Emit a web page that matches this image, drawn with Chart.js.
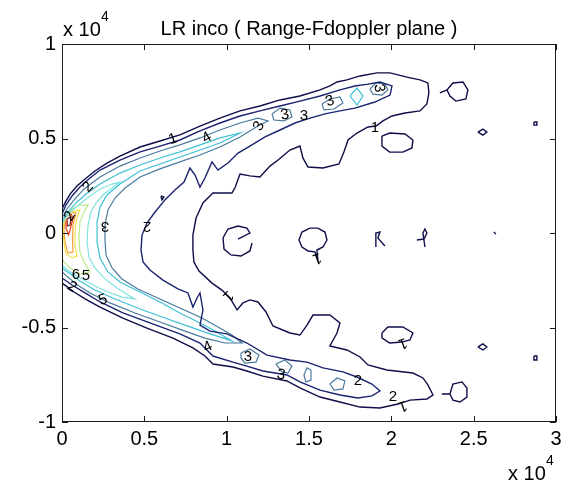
<!DOCTYPE html>
<html>
<head>
<meta charset="utf-8">
<script src="https://cdn.jsdelivr.net/npm/chart.js@4"></script>
<style>
  body { margin: 0; background: #fff; }
  canvas { display: block; }
</style>
</head>
<body>
<canvas id="contourChart" width="570" height="487"></canvas>
<script>
// axes, in units of 10^4
const xTicks = [0, 0.5, 1, 1.5, 2, 2.5, 3];
const xTickLabels = ['0', '0.5', '1', '1.5', '2', '2.5', '3'];
const yTicks = [-1, -0.5, 0, 0.5, 1];
const yTickLabels = ['-1', '-0.5', '0', '0.5', '1'];

const levels = [1, 2, 3, 4, 5, 6, 7, 8, 9, 10];
const levelColors = ['#0e0e4a', '#1a2370', '#4a7a9e', '#3fbfd6', '#7fe3df',
                     '#bfe98a', '#f2e04a', '#f4a03a', '#d9401e', '#7a1a10'];

// contour paths [x, y]
const level1Band = [[0,0.127],[0.018,0.159],[0.049,0.206],[0.091,0.249],[0.14,0.286],[0.2,0.328],[0.273,0.37],[0.352,0.407],[0.474,0.455],[0.595,0.487],[0.716,0.519],[0.838,0.566],[0.959,0.608],[1.081,0.646],[1.202,0.672],[1.324,0.704],[1.445,0.725],[1.567,0.757],[1.627,0.778],[1.67,0.799],[1.73,0.81],[1.81,0.831],[1.913,0.847],[1.992,0.847],[2.095,0.825],[2.174,0.81],[2.222,0.794],[2.228,0.741],[2.216,0.683],
  [2.174,0.646],[2.083,0.635],[2.004,0.619],[1.949,0.593],[1.907,0.566],[1.858,0.561],[1.791,0.529],[1.737,0.492],[1.712,0.429],[1.682,0.365],[1.585,0.344],[1.494,0.349],[1.463,0.397],[1.445,0.46],[1.384,0.439],[1.312,0.386],[1.263,0.354],[1.202,0.296],[1.141,0.302],[1.081,0.312],[1.05,0.238],[1.032,0.212],[0.917,0.212],[0.856,0.159],[0.814,0.079],[0.795,-0.011],[0.795,-0.09],[0.801,-0.153],[0.832,-0.201],[0.911,-0.265],[0.971,-0.302],[1.02,-0.344],[1.063,-0.407],[1.099,-0.37],[1.141,-0.354],[1.19,-0.365],[1.239,-0.418],[1.281,-0.492],[1.384,-0.529],[1.445,-0.54],[1.488,-0.487],[1.524,-0.434],[1.627,-0.434],[1.688,-0.476],[1.67,-0.529],[1.627,-0.598],[1.73,-0.619],[1.81,-0.656],[1.858,-0.698],[1.973,-0.725],[2.131,-0.741],[2.192,-0.767],[2.222,-0.804],[2.253,-0.857],
  [2.216,-0.878],[2.113,-0.884],[2.04,-0.905],[1.931,-0.926],[1.81,-0.921],[1.688,-0.894],[1.567,-0.868],[1.445,-0.82],[1.366,-0.783],[1.22,-0.757],[1.123,-0.73],[1.038,-0.709],[0.917,-0.693],[0.868,-0.651],[0.795,-0.608],[0.674,-0.556],[0.516,-0.503],[0.37,-0.45],[0.231,-0.392],[0.14,-0.349],[0.073,-0.312],[0.024,-0.28],[0,-0.265]];

const level1Islands = [
  [[2.295,0.741],[2.338,0.757],[2.374,0.794],[2.435,0.799],[2.465,0.757],[2.453,0.709],[2.392,0.698],[2.356,0.725],[2.338,0.757]],
  [[1.943,0.513],[1.99,0.529],[2.083,0.524],[2.131,0.492],[2.125,0.45],[2.07,0.428],[1.99,0.428],[1.943,0.46],[1.943,0.513]],
  [[2.526,0.534],[2.556,0.55],[2.58,0.534],[2.556,0.518],[2.526,0.534]],
  [[2.866,0.587],[2.884,0.587],[2.884,0.571],[2.866,0.571],[2.866,0.587]],
  [[1.069,-0.032],[1.141,0],[1.123,0.026],[1.069,0.037],[1.008,0.021],[0.978,-0.026],[0.984,-0.085],[1.026,-0.116],[1.087,-0.122],[1.141,-0.095],[1.154,-0.053]],
  [[1.506,0.026],[1.457,0.005],[1.439,-0.037],[1.457,-0.074],[1.494,-0.095],[1.536,-0.1],[1.554,-0.143],[1.548,-0.09],[1.585,-0.074],[1.609,-0.037],[1.597,0.005],[1.554,0.026],[1.506,0.026]],
  [[1.906,-0.074],[1.906,0],[1.931,0.005],[1.918,-0.026],[1.961,-0.069]],
  [[2.155,-0.037],[2.198,-0.032],[2.216,0],[2.204,0.021],[2.192,0],[2.204,-0.074]],
  [[1.943,-0.529],[1.979,-0.497],[2.07,-0.497],[2.131,-0.529],[2.113,-0.566],[2.064,-0.577],[1.99,-0.582],[1.943,-0.555],[1.943,-0.529]],
  [[2.526,-0.603],[2.556,-0.587],[2.58,-0.603],[2.556,-0.619],[2.526,-0.603]],
  [[2.866,-0.651],[2.884,-0.651],[2.884,-0.672],[2.866,-0.672],[2.866,-0.651]],
  [[2.307,-0.852],[2.356,-0.852],[2.374,-0.799],[2.429,-0.788],[2.459,-0.82],[2.459,-0.868],[2.417,-0.894],[2.374,-0.884],[2.356,-0.852]],
  [[0.601,0.196],[0.619,0.19],[0.607,0.175],[0.601,0.196]],
  [[2.623,0.005],[2.635,-0.005]]
];

const level2Band = [[0,0.101],[0.024,0.148],[0.061,0.196],[0.109,0.243],[0.17,0.291],[0.231,0.333],[0.352,0.386],[0.474,0.429],[0.595,0.46],[0.716,0.492],[0.838,0.54],[0.959,0.582],[1.081,0.619],[1.202,0.646],[1.324,0.672],[1.445,0.698],[1.567,0.725],[1.688,0.757],[1.779,0.778],[1.858,0.788],[1.931,0.799],[2.004,0.778],[1.992,0.73],[1.9,0.693],
  [1.779,0.661],[1.688,0.646],[1.597,0.63],[1.506,0.608],[1.415,0.582],[1.324,0.545],[1.233,0.508],[1.141,0.46],[1.069,0.423],[1.008,0.37],[0.947,0.333],[0.911,0.376],[0.868,0.291],[0.838,0.243],[0.808,0.307],[0.777,0.344],[0.741,0.27],[0.686,0.228],[0.625,0.175],[0.565,0.111],[0.516,0.053],[0.486,-0.011],[0.48,-0.09],[0.492,-0.153],[0.534,-0.196],[0.613,-0.249],[0.704,-0.296],[0.765,-0.317],[0.795,-0.392],[0.82,-0.344],[0.838,-0.317],[0.856,-0.407],[0.838,-0.487],[0.899,-0.519],[1.002,-0.534],[1.123,-0.582],[1.245,-0.646],[1.384,-0.672],[1.488,-0.683],[1.585,-0.714],[1.706,-0.735],[1.791,-0.762],[1.882,-0.799],[1.931,-0.836],
  [1.882,-0.862],[1.797,-0.873],[1.688,-0.857],[1.567,-0.831],[1.445,-0.788],[1.366,-0.751],[1.22,-0.73],[1.123,-0.704],[1.038,-0.683],[0.917,-0.651],[0.838,-0.582],[0.716,-0.534],[0.534,-0.476],[0.37,-0.423],[0.231,-0.365],[0.14,-0.317],[0.061,-0.275],[0,-0.238]];

const level3Band = [[0,0.079],[0.03,0.127],[0.073,0.175],[0.134,0.233],[0.231,0.296],[0.352,0.354],[0.474,0.397],[0.595,0.434],[0.716,0.466],[0.838,0.503],[0.959,0.545],[1.081,0.582],[1.19,0.608],[1.251,0.593],
  [1.19,0.566],[1.081,0.508],[0.959,0.455],[0.838,0.413],[0.716,0.376],[0.595,0.339],[0.474,0.296],[0.383,0.238],[0.322,0.185],[0.279,0.122],[0.261,0.042],[0.261,-0.037],[0.267,-0.116],[0.304,-0.185],[0.364,-0.243],[0.461,-0.296],[0.595,-0.349],[0.729,-0.402],[0.85,-0.45],[0.947,-0.497],[1.032,-0.54],[1.093,-0.582],
  [0.99,-0.582],[0.868,-0.556],[0.747,-0.519],[0.595,-0.471],[0.443,-0.423],[0.291,-0.37],[0.17,-0.317],[0.085,-0.27],[0.03,-0.228],[0,-0.206]];

const level3Islands = [
  [[1.275,0.63],[1.324,0.661],[1.384,0.651],[1.396,0.614],[1.348,0.593],[1.287,0.598],[1.275,0.63]],
  [[1.579,0.683],[1.627,0.709],[1.688,0.72],[1.706,0.688],[1.652,0.656],[1.591,0.651],[1.579,0.683]],
  [[1.87,0.762],[1.907,0.794],[1.961,0.788],[1.979,0.757],[1.943,0.73],[1.888,0.735],[1.87,0.762]],
  [[1.087,-0.635],[1.141,-0.614],[1.196,-0.646],[1.178,-0.683],[1.111,-0.688],[1.087,-0.661],[1.087,-0.635]],
  [[1.299,-0.693],[1.354,-0.672],[1.396,-0.704],[1.372,-0.741],[1.336,-0.735],[1.299,-0.693]],
  [[1.469,-0.751],[1.488,-0.714],[1.512,-0.725],[1.512,-0.778],[1.481,-0.788],[1.469,-0.751]],
  [[1.627,-0.799],[1.67,-0.767],[1.718,-0.783],[1.706,-0.825],[1.652,-0.831],[1.627,-0.799]]
];

const level4Band = [[0,0.063],[0.036,0.111],[0.085,0.159],[0.146,0.206],[0.231,0.259],[0.352,0.317],[0.474,0.36],[0.595,0.397],[0.716,0.429],[0.838,0.466],[0.959,0.503],[1.081,0.529],
  [0.959,0.476],[0.838,0.439],[0.716,0.402],[0.595,0.365],[0.474,0.328],[0.352,0.259],[0.273,0.201],[0.231,0.138],[0.213,0.058],[0.213,-0.048],[0.231,-0.132],[0.279,-0.206],[0.352,-0.259],[0.474,-0.312],[0.595,-0.365],[0.716,-0.423],[0.838,-0.476],[0.929,-0.519],[1.032,-0.571],
  [0.899,-0.534],[0.777,-0.497],[0.625,-0.45],[0.474,-0.402],[0.322,-0.349],[0.2,-0.302],[0.109,-0.254],[0.043,-0.212],[0,-0.185]];

const level4Islands = [
  [[1.749,0.725],[1.791,0.767],[1.828,0.725],[1.791,0.677],[1.749,0.725]]
];

const level5Band = [[0,0.053],[0.036,0.095],[0.085,0.138],[0.146,0.18],[0.231,0.233],[0.304,0.259],[0.352,0.27],[0.304,0.238],[0.255,0.206],[0.206,0.159],[0.176,0.111],[0.158,0.042],[0.152,-0.048],[0.164,-0.127],[0.2,-0.185],[0.261,-0.243],[0.334,-0.291],[0.401,-0.328],[0.443,-0.349],[0.364,-0.339],[0.279,-0.312],[0.2,-0.28],[0.121,-0.243],[0.061,-0.212],[0.018,-0.185],[0,-0.169]];

const level6Band = [[0,0.042],[0.024,0.09],[0.061,0.127],[0.109,0.148],[0.158,0.148],[0.134,0.111],[0.109,0.058],[0.103,-0.026],[0.109,-0.101],[0.134,-0.153],[0.17,-0.206],[0.109,-0.217],[0.049,-0.185],[0.012,-0.153],[0,-0.132]];

const level7Loop = [[0.012,0.058],[0.036,0.095],[0.073,0.116],[0.109,0.122],[0.091,0.079],[0.079,0.016],[0.079,-0.063],[0.091,-0.122],[0.061,-0.132],[0.024,-0.111],[0.012,-0.048],[0.006,0.016],[0.012,0.058]];
const level8Loop = [[0.018,0.079],[0.055,0.106],[0.085,0.106],[0.067,0.042],[0.064,-0.037],[0.067,-0.1],[0.036,-0.106],[0.018,-0.048],[0.012,0.016],[0.018,0.079]];
const level9Loop = [[0.024,0.085],[0.055,0.1],[0.067,0.079],[0.052,0.026],[0.04,-0.01],[0.024,0.026],[0.024,0.085]];
const level10Loop = [[0.03,0.074],[0.055,0.085],[0.049,0.042],[0.033,0.037],[0.03,0.074]];

// inline contour labels: text, x, y, angle (deg)
const contourLabels = [
  ['1', 0.674, 0.497, -20], ['4', 0.88, 0.503, -30], ['3', 1.196, 0.566, -60],
  ['3', 1.354, 0.624, -10], ['3', 1.469, 0.619, 0], ['3', 1.627, 0.698, -20],
  ['3', 1.925, 0.767, 80], ['1', 1.9, 0.556, 0], ['2', 0.158, 0.243, -45],
  ['2', 0.049, 0.09, -60], ['3', 0.261, 0.037, 180], ['2', 0.516, 0.037, 180],
  ['1', 1.008, -0.333, 135], ['1', 1.548, -0.132, 160], ['1', 2.07, -0.582, 160],
  ['6', 0.085, -0.222, 0], ['5', 0.146, -0.228, 0], ['2', 0.061, -0.286, 30],
  ['5', 0.249, -0.354, -20], ['4', 0.886, -0.603, -25], ['3', 1.129, -0.656, 0],
  ['3', 1.33, -0.751, 10], ['2', 1.797, -0.783, 0], ['2', 2.01, -0.868, 0],
  ['1', 2.07, -0.915, 160]
];

const contourSets = [
  [1, [level1Band, ...level1Islands]],
  [2, [level2Band]],
  [3, [level3Band, ...level3Islands]],
  [4, [level4Band, ...level4Islands]],
  [5, [level5Band]],
  [6, [level6Band]],
  [7, [level7Loop]],
  [8, [level8Loop]],
  [9, [level9Loop]],
  [10, [level10Loop]]
];

const FONT = '"Liberation Sans", Arial, sans-serif';

const datasets = [];
contourSets.forEach(([lvl, paths]) => {
  const color = levelColors[levels.indexOf(lvl)];
  paths.forEach(path => {
    datasets.push({
      label: 'level ' + lvl,
      data: path.map(p => ({ x: p[0], y: p[1] })),
      showLine: true,
      borderColor: color,
      borderWidth: lvl <= 2 ? 1.4 : 1.2,
      pointRadius: 0,
      fill: false,
      tension: 0
    });
  });
});

// box with inward ticks, contour labels, title and exponent labels
const matlabFrame = {
  id: 'matlabFrame',
  afterDatasetsDraw(chart) {
    const { ctx, chartArea: a, scales } = chart;
    const xs = scales.x, ys = scales.y;
    ctx.save();
    ctx.strokeStyle = '#1a1a1a';
    ctx.lineWidth = 1;
    ctx.strokeRect(a.left + 0.5, a.top + 0.5, a.right - a.left - 1, a.bottom - a.top - 1);
    ctx.beginPath();
    const tl = 6;
    xTicks.forEach(v => {
      const px = Math.round(xs.getPixelForValue(v)) + 0.5;
      ctx.moveTo(px, a.bottom); ctx.lineTo(px, a.bottom - tl);
      ctx.moveTo(px, a.top); ctx.lineTo(px, a.top + tl);
    });
    yTicks.forEach(v => {
      const py = Math.round(ys.getPixelForValue(v)) + 0.5;
      ctx.moveTo(a.left, py); ctx.lineTo(a.left + tl, py);
      ctx.moveTo(a.right, py); ctx.lineTo(a.right - tl, py);
    });
    ctx.stroke();

    ctx.fillStyle = '#000';
    ctx.font = '15px ' + FONT;
    ctx.textAlign = 'center';
    ctx.textBaseline = 'middle';
    contourLabels.forEach(([t, x, y, ang]) => {
      ctx.save();
      ctx.translate(xs.getPixelForValue(x), ys.getPixelForValue(y));
      ctx.rotate(ang * Math.PI / 180);
      ctx.fillText(t, 0, 0);
      ctx.restore();
    });

    ctx.textBaseline = 'alphabetic';
    ctx.font = '20px ' + FONT;
    ctx.fillText('LR inco ( Range-Fdoppler plane )', (a.left + a.right) / 2, 35);

    ctx.textAlign = 'left';
    ctx.fillText('x 10', 63, 36);
    ctx.font = '14px ' + FONT;
    ctx.fillText('4', 101, 21);
    ctx.font = '20px ' + FONT;
    ctx.fillText('x 10', 508, 480);
    ctx.font = '14px ' + FONT;
    ctx.fillText('4', 546, 465);
    ctx.restore();
  }
};

new Chart(document.getElementById('contourChart').getContext('2d'), {
  type: 'scatter',
  data: { datasets },
  options: {
    responsive: false,
    animation: false,
    layout: { padding: { top: 44, right: 14, left: 0, bottom: 0 } },
    plugins: { legend: { display: false }, tooltip: { enabled: false } },
    scales: {
      x: {
        type: 'linear', min: 0, max: 3,
        afterBuildTicks: s => { s.ticks = xTicks.map(v => ({ value: v })); },
        afterFit: s => { s.height = 65; },
        ticks: {
          callback: (v, i) => xTickLabels[i],
          font: { size: 20, family: FONT }, color: '#000',
          padding: 5, maxRotation: 0, autoSkip: false
        },
        grid: { display: false, drawTicks: false },
        border: { display: false }
      },
      y: {
        type: 'linear', min: -1, max: 1,
        afterBuildTicks: s => { s.ticks = yTicks.map(v => ({ value: v })); },
        afterFit: s => { s.width = 62; },
        ticks: {
          callback: (v, i) => yTickLabels[i],
          font: { size: 20, family: FONT }, color: '#000',
          padding: 6, autoSkip: false
        },
        grid: { display: false, drawTicks: false },
        border: { display: false }
      }
    }
  },
  plugins: [matlabFrame]
});
</script>
</body>
</html>
